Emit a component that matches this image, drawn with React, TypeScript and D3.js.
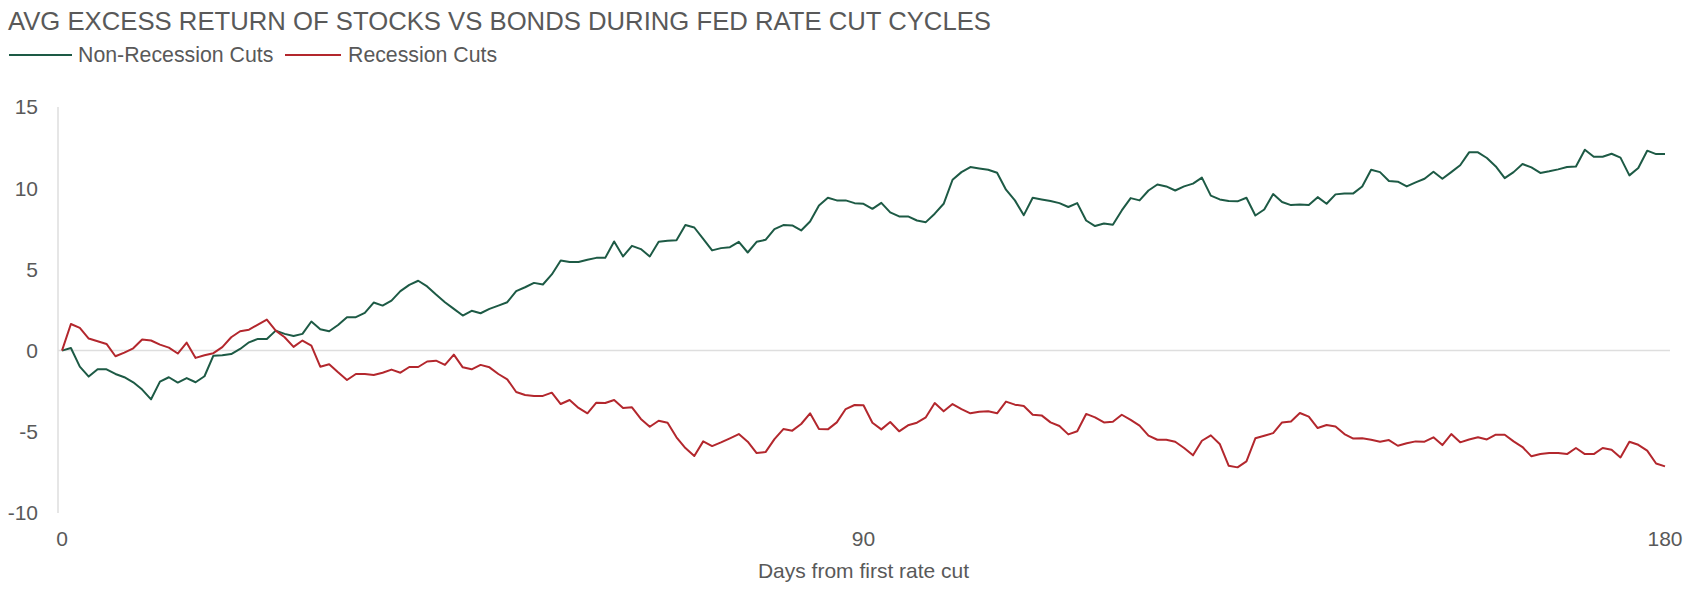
import React from 'react';
import * as d3 from 'd3';

// Avg excess return (stocks minus bonds, %), one value per day from the first cut
const nonRecessionCuts = [
  0, 0.16, -0.99, -1.6, -1.15, -1.15, -1.44, -1.64, -1.95, -2.4,
  -3.0, -1.91, -1.64, -1.97, -1.69, -1.95, -1.58, -0.31, -0.29, -0.21,
  0.1, 0.51, 0.72, 0.72, 1.23, 1.03, 0.9, 1.03, 1.79, 1.32,
  1.19, 1.58, 2.06, 2.06, 2.32, 2.96, 2.77, 3.08, 3.66, 4.05,
  4.3, 3.95, 3.45, 2.98, 2.57, 2.16, 2.45, 2.3, 2.57, 2.77,
  2.98, 3.66, 3.9, 4.17, 4.07, 4.69, 5.55, 5.45, 5.45, 5.59,
  5.71, 5.71, 6.72, 5.8, 6.45, 6.25, 5.8, 6.7, 6.76, 6.8,
  7.73, 7.58, 6.88, 6.17, 6.31, 6.37, 6.7, 6.04, 6.7, 6.82,
  7.48, 7.73, 7.71, 7.4, 7.95, 8.94, 9.41, 9.25, 9.25, 9.08,
  9.04, 8.73, 9.1, 8.51, 8.26, 8.26, 8.01, 7.91, 8.43, 9.04,
  10.52, 10.99, 11.3, 11.22, 11.14, 10.95, 9.91, 9.25, 8.34, 9.41,
  9.31, 9.21, 9.08, 8.84, 9.08, 8.01, 7.67, 7.83, 7.75, 8.63,
  9.39, 9.25, 9.86, 10.23, 10.11, 9.86, 10.11, 10.28, 10.65, 9.54,
  9.31, 9.21, 9.19, 9.41, 8.32, 8.69, 9.64, 9.15, 8.96, 9.0,
  8.96, 9.45, 9.04, 9.62, 9.68, 9.68, 10.11, 11.14, 10.99, 10.44,
  10.4, 10.11, 10.36, 10.58, 11.01, 10.58, 10.99, 11.41, 12.21, 12.21,
  11.86, 11.34, 10.62, 10.99, 11.49, 11.28, 10.94, 11.04, 11.16, 11.3,
  11.34, 12.37, 11.94, 11.94, 12.12, 11.88, 10.79, 11.24, 12.31, 12.1,
  12.1,
];

const recessionCuts = [
  0, 1.64, 1.4, 0.74, 0.58, 0.41, -0.35, -0.12, 0.14, 0.68,
  0.62, 0.37, 0.18, -0.18, 0.49, -0.45, -0.29, -0.16, 0.21, 0.82,
  1.19, 1.29, 1.6, 1.91, 1.23, 0.82, 0.23, 0.62, 0.31, -0.99,
  -0.84, -1.34, -1.81, -1.44, -1.44, -1.5, -1.36, -1.17, -1.36, -1.01,
  -1.01, -0.67, -0.62, -0.88, -0.25, -1.03, -1.15, -0.88, -1.03, -1.44,
  -1.77, -2.55, -2.73, -2.79, -2.79, -2.59, -3.29, -3.04, -3.53, -3.86,
  -3.21, -3.23, -3.04, -3.53, -3.49, -4.21, -4.69, -4.32, -4.44, -5.34,
  -6.0, -6.49, -5.59, -5.88, -5.65, -5.4, -5.14, -5.61, -6.31, -6.25,
  -5.45, -4.83, -4.93, -4.52, -3.86, -4.83, -4.85, -4.42, -3.6, -3.35,
  -3.37, -4.44, -4.85, -4.4, -4.97, -4.6, -4.44, -4.11, -3.23, -3.74,
  -3.29, -3.6, -3.86, -3.76, -3.74, -3.86, -3.14, -3.33, -3.41, -3.95,
  -3.99, -4.42, -4.64, -5.16, -4.97, -3.9, -4.11, -4.42, -4.38, -3.95,
  -4.27, -4.62, -5.24, -5.49, -5.49, -5.61, -6.0, -6.45, -5.55, -5.22,
  -5.75, -7.09, -7.19, -6.82, -5.4, -5.24, -5.08, -4.42, -4.36, -3.84,
  -4.07, -4.77, -4.58, -4.67, -5.14, -5.42, -5.4, -5.49, -5.61, -5.51,
  -5.86, -5.71, -5.59, -5.61, -5.34, -5.82, -5.14, -5.65, -5.47, -5.34,
  -5.47, -5.18, -5.18, -5.59, -5.94, -6.51, -6.37, -6.31, -6.31, -6.37,
  -6.0, -6.37, -6.37, -6.0, -6.1, -6.58, -5.61, -5.8, -6.16, -6.95,
  -7.13,
];

const days = nonRecessionCuts.map((_, i) => i);
const xTicks = [0, 90, 180];
const yTicks = [-10, -5, 0, 5, 10, 15];

const series = [
  { name: 'Non-Recession Cuts', values: nonRecessionCuts, color: '#1d5a45' },
  { name: 'Recession Cuts', values: recessionCuts, color: '#b3272d' },
];

const W = 1700;
const H = 592;
const font = '"Liberation Sans", Arial, sans-serif';
const textColor = '#595959';

export default function App() {
  const x = d3.scaleLinear().domain([0, 180]).range([62, 1665]);
  const y = d3.scaleLinear().domain([-10, 15]).range([513, 107]);

  const line = d3
    .line<number>()
    .x((_, i) => x(days[i]))
    .y((d) => y(d));

  return (
    <svg
      width={W}
      height={H}
      style={{ position: 'absolute', left: 0, top: 0, background: '#fff' }}
      fontFamily={font}
    >
      <text x={8} y={30} fontSize={25.7} fill={textColor}>
        AVG EXCESS RETURN OF STOCKS VS BONDS DURING FED RATE CUT CYCLES
      </text>

      {/* legend */}
      <g>
        <line x1={9} x2={72} y1={55} y2={55} stroke={series[0].color} strokeWidth={2} />
        <text x={78} y={62} fontSize={21.3} fill={textColor}>{series[0].name}</text>
        <line x1={285} x2={341} y1={55} y2={55} stroke={series[1].color} strokeWidth={2} />
        <text x={348} y={62} fontSize={21.3} fill={textColor}>{series[1].name}</text>
      </g>

      {/* y axis line and zero line */}
      <line x1={58} x2={58} y1={y(15)} y2={y(-10)} stroke="#dedede" strokeWidth={1.5} />
      <line x1={58} x2={1670} y1={y(0)} y2={y(0)} stroke="#dedede" strokeWidth={1.5} />

      {yTicks.map((t) => (
        <text
          key={t}
          x={38}
          y={y(t)}
          dy="0.35em"
          textAnchor="end"
          fontSize={21}
          fill={textColor}
        >
          {t}
        </text>
      ))}

      {xTicks.map((t) => (
        <text key={t} x={x(t)} y={546} textAnchor="middle" fontSize={21} fill={textColor}>
          {t}
        </text>
      ))}

      <text x={x(90)} y={578} textAnchor="middle" fontSize={21} fill={textColor}>
        Days from first rate cut
      </text>

      {series.map((s) => (
        <path
          key={s.name}
          d={line(s.values) ?? ''}
          fill="none"
          stroke={s.color}
          strokeWidth={2}
          strokeLinejoin="round"
        />
      ))}
    </svg>
  );
}
